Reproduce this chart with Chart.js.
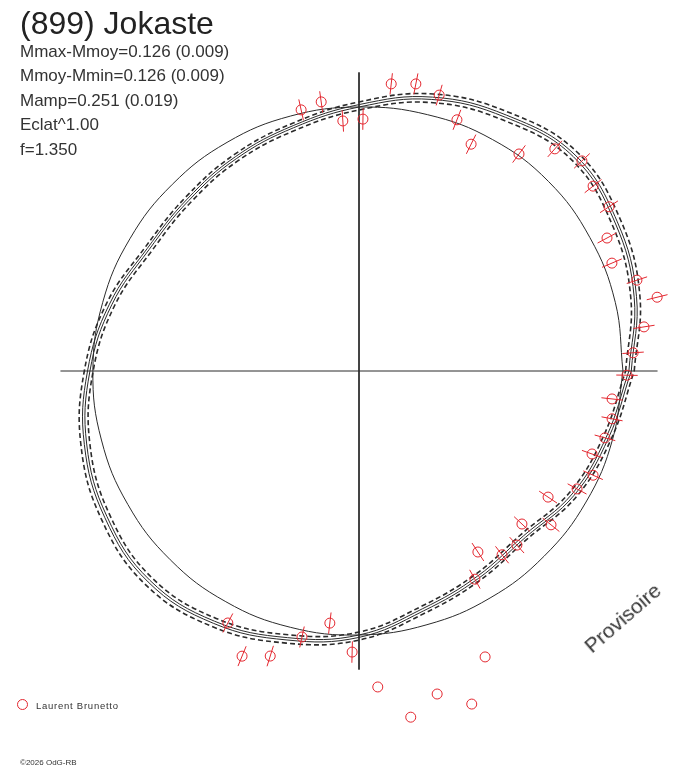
<!DOCTYPE html>
<html lang="fr">
<head>
  <meta charset="UTF-8" />
  <title>(899) Jokaste</title>
  <style>
    body {
      margin: 0;
      background: #fff;
      font-family: 'Liberation Sans', Arial, sans-serif;
      color: #333;
    }
    #wrap {
      position: relative;
      width: 688px;
      height: 768px;
      overflow: hidden;
    }
    #wrap canvas {
      position: absolute;
      left: 0;
      top: 0;
    }
    .txt {
      position: absolute;
      white-space: nowrap;
      line-height: 1;
    }
    .title { left: 20px; top: 7px; font-size: 32px; color: #222; }
    .info { left: 20px; font-size: 17px; color: #333; }
    .provisoire {
      left: 592px; top: 636px; font-size: 21px; color: #333;
      transform-origin: 0 18px;
      transform: rotate(-41deg);
    }
    .legend { left: 36px; top: 701px; font-size: 9.5px; letter-spacing: 0.75px; color: #333; }
    .legend-mark {
      position: absolute; left: 17px; top: 699px;
      width: 9px; height: 9px; border: 1px solid #e3262e; border-radius: 50%;
    }
    .copy { left: 20px; top: 759px; font-size: 8px; color: #333; }
  </style>
</head>
<body>
  <div id="wrap">
    <canvas id="lcChart" width="688" height="768"></canvas>
    <div class="txt title">(899) Jokaste</div>
    <div class="txt info" style="top:43px">Mmax-Mmoy=0.126 (0.009)</div>
    <div class="txt info" style="top:67px">Mmoy-Mmin=0.126 (0.009)</div>
    <div class="txt info" style="top:92px">Mamp=0.251 (0.019)</div>
    <div class="txt info" style="top:116px">Eclat^1.00</div>
    <div class="txt info" style="top:141px">f=1.350</div>
    <div class="txt provisoire">Provisoire</div>
    <div class="legend-mark"></div>
    <div class="txt legend">Laurent Brunetto</div>
    <div class="txt copy">©2026 OdG-RB</div>
  </div>

  <script src="https://cdn.jsdelivr.net/npm/chart.js"></script>
  <script>
    // observations: rotational phase (deg) and relative flux
    const phaseDeg = [102.5, 98.0, 93.7, 89.1, 83.6, 78.8, 73.8, 68.7, 63.7, 53.6,
                      48.6, 43.3, 38.3, 33.3, 28.2, 23.1, 18.1, 13.9, 8.8, 3.8,
                      359.1, 353.7, 349.3, 344.8, 340.4, 336.0, 331.6, 326.3, 321.3, 316.8,
                      312.2, 307.9, 303.3, 299.1, 242.5, 257.9, 263.4, 247.7, 252.7, 268.6];
    const relFlux = [0.998, 1.014, 0.935, 0.940, 1.078, 1.092, 1.072, 1.006, 0.944, 1.006,
                     1.105, 1.143, 1.113, 1.116, 1.050, 1.026, 1.091, 1.146, 1.076, 1.025,
                     1.000, 0.950, 0.961, 0.951, 0.923, 0.956, 0.925, 0.848, 0.918, 0.834,
                     0.877, 0.869, 0.808, 0.889, 1.060, 1.015, 0.947, 1.150, 1.114, 1.049];
    const fluxErr = [0.040, 0.040, 0.040, 0.040, 0.040, 0.040, 0.040, 0.040, 0.040, 0.040,
                     0.040, 0.040, 0.040, 0.040, 0.040, 0.040, 0.040, 0.040, 0.040, 0.040,
                     0.040, 0.040, 0.040, 0.040, 0.040, 0.040, 0.040, 0.040, 0.040, 0.040,
                     0.040, 0.040, 0.040, 0.040, 0.040, 0.040, 0.040, 0.040, 0.040, 0.040];

    // points plotted without error bars
    const rejPhase = [293.8, 273.4, 283.6, 288.7, 278.5];
    const rejFlux = [1.166, 1.181, 1.240, 1.312, 1.306];

    // model curves, every 15 deg
    const modelAngles = [0, 15, 30, 45, 60, 75, 90, 105, 120, 135, 150, 165,
                         180, 195, 210, 225, 240, 255, 270, 285, 300, 315, 330, 345];
    const sphereR = [0.985, 0.99, 0.995, 1.0, 0.997, 0.99, 0.985, 0.985, 0.985, 0.985, 0.987, 0.99,
                     0.993, 0.995, 0.996, 0.996, 0.994, 0.99, 0.985, 0.98, 0.978, 0.977, 0.978, 0.98];
    const fitR = [1.007, 1.063, 1.104, 1.131, 1.093, 1.049, 0.985, 0.940, 0.915, 0.899, 0.905, 0.955,
                  1.004, 1.052, 1.086, 1.104, 1.078, 1.030, 0.985, 0.918, 0.884, 0.869, 0.918, 0.955];
    const fitR2 = [1.016, 1.072, 1.113, 1.140, 1.102, 1.058, 0.994, 0.948, 0.923, 0.907, 0.913, 0.964,
                   1.013, 1.061, 1.095, 1.113, 1.087, 1.039, 0.994, 0.927, 0.893, 0.878, 0.927, 0.964];
    const fitHigh = [1.027, 1.085, 1.127, 1.153, 1.115, 1.070, 1.004, 0.957, 0.932, 0.916, 0.922, 0.975,
                     1.025, 1.074, 1.109, 1.127, 1.100, 1.051, 1.004, 0.937, 0.902, 0.887, 0.937, 0.975];
    const fitLow = [0.995, 1.050, 1.091, 1.118, 1.080, 1.037, 0.974, 0.929, 0.905, 0.889, 0.894, 0.944,
                    0.992, 1.040, 1.074, 1.092, 1.066, 1.019, 0.974, 0.908, 0.874, 0.859, 0.907, 0.944];

    const axisExtent = 1.114;

    function toXY(deg, r) {
      const a = deg * Math.PI / 180;
      return { x: r * Math.cos(a), y: r * Math.sin(a) };
    }

    function loop(radii) {
      const pts = modelAngles.map((a, i) => toXY(a, radii[i]));
      pts.push(toXY(360, radii[0]));
      return pts;
    }

    const red = '#e3262e';
    const ink = '#2b2b2b';

    function curve(radii, width, dash) {
      return {
        type: 'line',
        data: loop(radii),
        showLine: true,
        borderColor: ink,
        borderWidth: width,
        borderDash: dash,
        tension: 0.4,
        pointRadius: 0,
        fill: false,
        order: 2
      };
    }

    // radial error bars
    const errorBars = {
      id: 'errorBars',
      afterDatasetsDraw(chart) {
        const { ctx, scales } = chart;
        ctx.save();
        ctx.strokeStyle = red;
        ctx.lineWidth = 1;
        phaseDeg.forEach((p, i) => {
          const a = toXY(p, relFlux[i] - fluxErr[i]);
          const b = toXY(p, relFlux[i] + fluxErr[i]);
          ctx.beginPath();
          ctx.moveTo(scales.x.getPixelForValue(a.x), scales.y.getPixelForValue(a.y));
          ctx.lineTo(scales.x.getPixelForValue(b.x), scales.y.getPixelForValue(b.y));
          ctx.stroke();
        });
        ctx.restore();
      }
    };

    new Chart(document.getElementById('lcChart'), {
      type: 'scatter',
      data: {
        datasets: [
          {
            type: 'line',
            data: [{ x: -axisExtent, y: 0 }, { x: axisExtent, y: 0 }],
            borderColor: ink, borderWidth: 1, pointRadius: 0, order: 3
          },
          {
            type: 'line',
            data: [{ x: 0, y: axisExtent }, { x: 0, y: -axisExtent }],
            borderColor: ink, borderWidth: 1, pointRadius: 0, order: 3
          },
          curve(sphereR, 1, []),
          curve(fitR, 1, []),
          curve(fitR2, 1, []),
          curve(fitHigh, 1.6, [5, 3]),
          curve(fitLow, 1.6, [5, 3]),
          {
            label: 'Laurent Brunetto',
            data: phaseDeg.map((p, i) => toXY(p, relFlux[i])),
            pointStyle: 'circle',
            pointRadius: 5,
            pointBorderWidth: 1,
            borderColor: red,
            backgroundColor: 'rgba(0,0,0,0)',
            order: 1
          },
          {
            data: rejPhase.map((p, i) => toXY(p, rejFlux[i])),
            pointStyle: 'circle',
            pointRadius: 5,
            pointBorderWidth: 1,
            borderColor: red,
            backgroundColor: 'rgba(0,0,0,0)',
            order: 1
          }
        ]
      },
      options: {
        responsive: false,
        animation: false,
        layout: { padding: 0, autoPadding: false },
        plugins: {
          legend: { display: false },
          tooltip: { enabled: false }
        },
        scales: {
          x: { type: 'linear', display: false, min: -1.3396, max: 1.2276 },
          y: { type: 'linear', display: false, min: -1.4813, max: 1.3843 }
        }
      },
      plugins: [errorBars]
    });
  </script>
</body>
</html>
